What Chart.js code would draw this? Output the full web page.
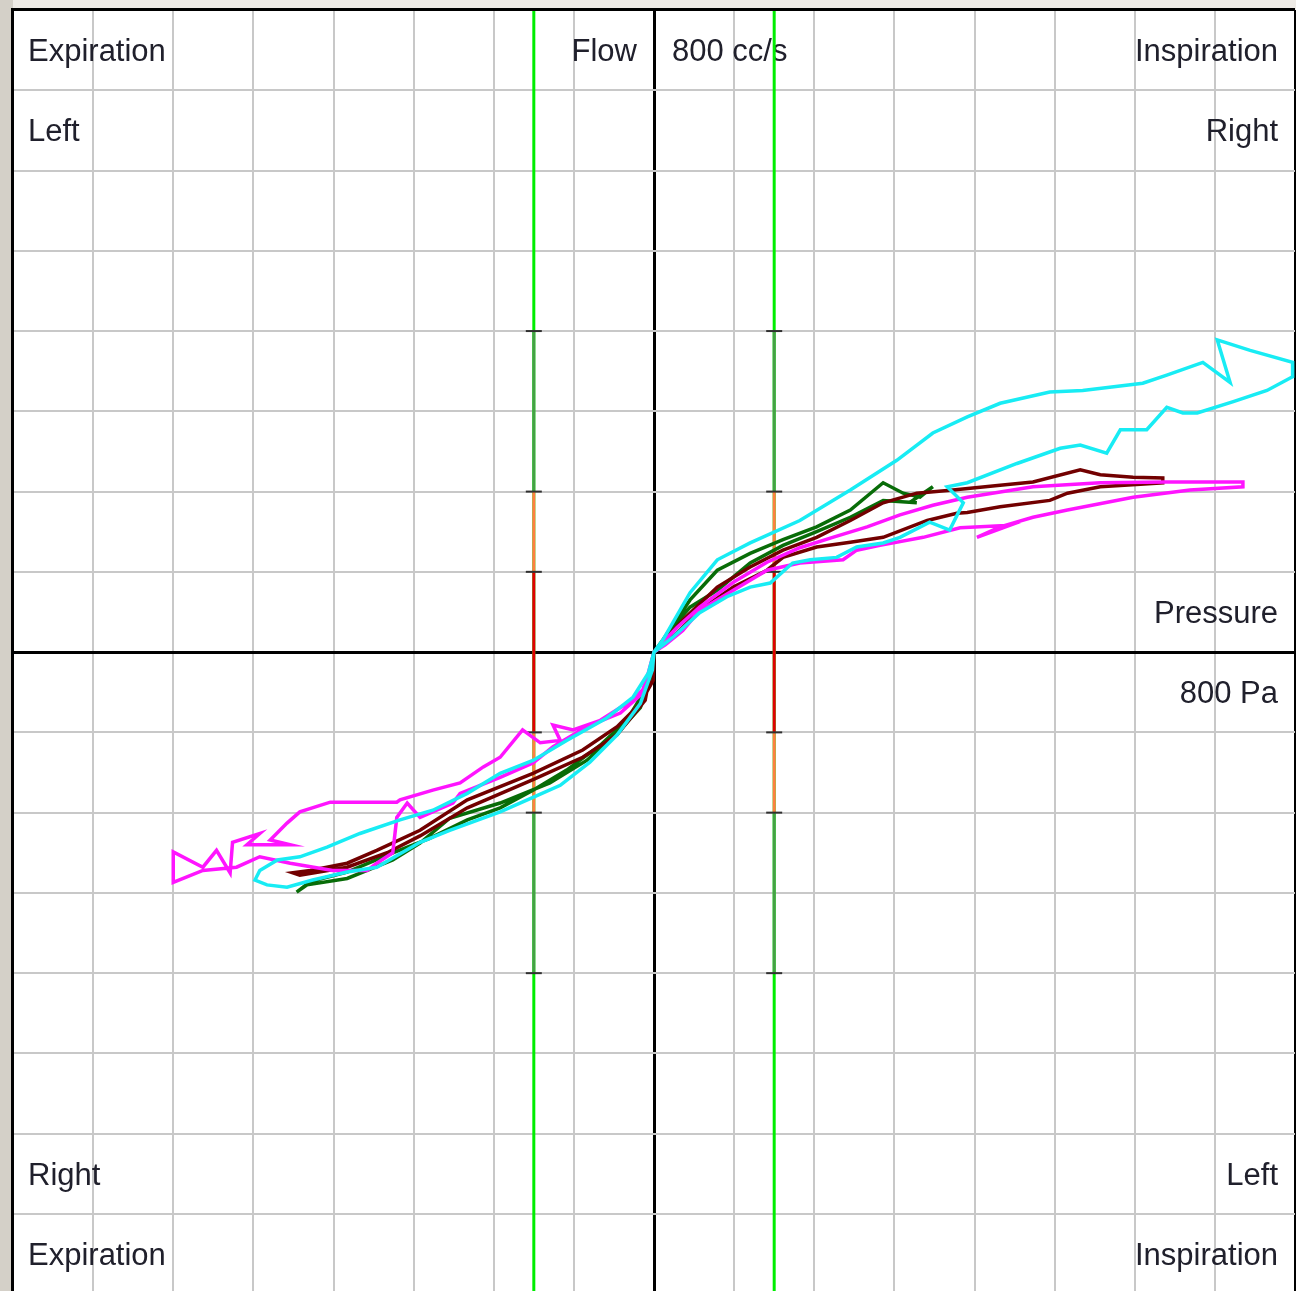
<!DOCTYPE html>
<html>
<head>
<meta charset="utf-8">
<script src="https://cdn.jsdelivr.net/npm/chart.js@4"></script>
<style>
  html, body { margin: 0; padding: 0; overflow: hidden; background: #ffffff; }
  canvas { display: block; }
</style>
</head>
<body>
<canvas id="loopChart" width="1296" height="1291"></canvas>
<script>
"use strict";

// pressure (Pa) on x, flow (cc/s) on y
const cyanPa = [0, 11, 45, 79, 120, 182, 245, 303, 348, 391, 432, 494, 535, 610, 640, 685, 719, 703, 744, 797, 797, 765, 723, 678, 660, 640, 615, 582, 565, 532, 507, 453, 391, 366, 386, 369, 344, 307, 286, 253, 228, 195, 173, 145, 120, 91, 57, 24, 0, -7, -26, -59, -109, -151, -192, -233, -276, -317, -367, -408, -442, -470, -492, -498, -483, -458, -426, -383, -346, -292, -255, -192, -151, -117, -80, -46, -17, -2, 0];
const cyanFlow = [0, 15, 74, 115, 136, 164, 202, 239, 273, 293, 310, 324, 326, 335, 345, 361, 336, 389, 376, 361, 343, 326, 312, 298, 298, 305, 277, 277, 248, 258, 254, 235, 211, 206, 186, 152, 162, 143, 136, 131, 118, 115, 111, 86, 81, 69, 49, 19, 0, -26, -56, -82, -110, -135, -151, -176, -197, -209, -226, -243, -255, -259, -272, -284, -290, -293, -284, -274, -268, -237, -222, -199, -181, -166, -137, -103, -64, -22, 0];

const magentaPa = [0, 11, 29, 57, 99, 141, 182, 223, 266, 307, 348, 391, 473, 557, 640, 735, 735, 669, 598, 516, 473, 432, 403, 444, 382, 336, 282, 253, 236, 182, 141, 99, 57, 36, 14, 0, -5, -14, -34, -67, -101, -126, -117, -142, -164, -192, -213, -242, -276, -317, -321, -404, -442, -458, -479, -454, -508, -492, -526, -529, -546, -563, -600, -600, -563, -521, -492, -454, -401, -358, -346, -326, -321, -308, -292, -251, -242, -192, -151, -126, -84, -42, -14, 0];
const magentaFlow = [0, 12, 31, 56, 87, 112, 130, 143, 156, 171, 183, 193, 206, 211, 212, 212, 206, 202, 193, 177, 168, 156, 143, 158, 155, 143, 133, 127, 115, 111, 102, 77, 52, 27, 9, 0, -20, -47, -64, -85, -97, -91, -110, -113, -97, -131, -143, -163, -172, -184, -187, -187, -199, -213, -234, -240, -240, -226, -237, -275, -247, -268, -249, -287, -272, -268, -255, -263, -272, -272, -263, -250, -206, -188, -206, -188, -176, -156, -138, -118, -93, -76, -51, 0];

const greenPa = [0, 11, 45, 79, 120, 161, 203, 245, 286, 311, 332, 348, 320, 328, 286, 245, 203, 161, 120, 79, 45, 20, 0, -2, -17, -46, -84, -130, -192, -255, -292, -326, -358, -383, -433, -446, -429, -383, -326, -280, -233, -192, -151, -109, -67, -34, -11, 0];
const greenFlow = [0, 15, 65, 102, 123, 140, 156, 177, 211, 198, 193, 206, 187, 186, 189, 168, 150, 133, 111, 77, 56, 27, 0, -26, -69, -101, -135, -163, -188, -207, -238, -259, -272, -282, -290, -299, -286, -274, -250, -232, -209, -194, -172, -147, -116, -85, -47, 0];

const redPa = [0, 36, 79, 120, 161, 203, 245, 286, 328, 373, 432, 473, 532, 557, 598, 635, 635, 557, 516, 494, 432, 391, 378, 341, 286, 245, 203, 161, 141, 99, 57, 29, 0, -1, -17, -46, -89, -151, -233, -292, -346, -383, -429, -451, -442, -383, -333, -292, -233, -151, -89, -46, -11, 0];
const redFlow = [0, 40, 81, 106, 127, 143, 164, 186, 198, 202, 208, 212, 227, 221, 218, 217, 211, 206, 198, 189, 181, 174, 173, 164, 143, 137, 131, 118, 102, 81, 52, 24, 0, -35, -64, -93, -122, -151, -184, -222, -247, -263, -272, -275, -278, -268, -250, -229, -194, -159, -131, -103, -60, 0];

// grid every 100 on both axes
const gridSteps = [-800, -700, -600, -500, -400, -300, -200, -100, 0, 100, 200, 300, 400, 500, 600, 700, 800];

// reference pressure lines and flow zones on them
const refPa = [-150, 150];
const zoneFrom = [200, 100, -100, -200, -400];
const zoneTo = [400, 200, 100, -100, -200];
const zoneColors = ["#46a046", "#ff7f40", "#e00000", "#ff7f40", "#46a046"];
const markFlow = [400, 200, 100, -100, -200, -400];

// corner texts
const textLabels = [
  { text: "Expiration", row: 800, side: "left" },
  { text: "Left", row: 700, side: "left" },
  { text: "Inspiration", row: 800, side: "right" },
  { text: "Right", row: 700, side: "right" },
  { text: "Flow", row: 800, side: "centerLeft" },
  { text: "800 cc/s", row: 800, side: "centerRight" },
  { text: "Pressure", row: 100, side: "right" },
  { text: "800 Pa", row: 0, side: "right" },
  { text: "Right", row: -600, side: "left" },
  { text: "Expiration", row: -700, side: "left" },
  { text: "Left", row: -600, side: "right" },
  { text: "Inspiration", row: -700, side: "right" },
];

function toPoints(xs, ys) {
  const pts = [];
  for (let i = 0; i < xs.length; i++) {
    pts.push({ x: xs[i], y: ys[i] });
  }
  return pts;
}

function curve(xs, ys, color, order) {
  return {
    data: toPoints(xs, ys),
    showLine: true,
    borderColor: color,
    borderWidth: 3.5,
    pointRadius: 0,
    tension: 0,
    order: order,
  };
}

const datasets = [];

datasets.push(curve(cyanPa, cyanFlow, "#18ecf4", 1));
datasets.push(curve(magentaPa, magentaFlow, "#ff14ff", 2));
datasets.push(curve(redPa, redFlow, "#720000", 3));
datasets.push(curve(greenPa, greenFlow, "#086c08", 4));

for (let p of refPa) {
  datasets.push({
    data: [{ x: p, y: -800 }, { x: p, y: 800 }],
    showLine: true,
    borderColor: "#00ee00",
    borderWidth: 3,
    pointRadius: 0,
    order: 30,
  });
  for (let i = 0; i < zoneFrom.length; i++) {
    datasets.push({
      data: [{ x: p, y: zoneFrom[i] }, { x: p, y: zoneTo[i] }],
      showLine: true,
      borderColor: zoneColors[i],
      borderWidth: 3,
      pointRadius: 0,
      order: 20,
    });
  }
  let marks = [];
  for (let f of markFlow) {
    marks.push({ x: p, y: f });
  }
  datasets.push({
    data: marks,
    showLine: false,
    pointStyle: "line",
    pointRadius: 8,
    borderColor: "#303030",
    borderWidth: 2,
    order: 10,
  });
}

function gridColor(v) {
  if (v === 0 || Math.abs(v) === 800) return "#000000";
  return "#c8c8c8";
}

function gridWidth(v) {
  if (v === 0) return 3;
  return 2;
}

function setGridTicks(scale) {
  scale.ticks = gridSteps
    .filter((v) => v >= scale.min && v <= scale.max)
    .map((v) => ({ value: v }));
}

const framePlugin = {
  id: "frame",
  beforeDraw(chart) {
    const ctx = chart.ctx;
    const area = chart.chartArea;
    ctx.save();
    ctx.fillStyle = "#eeebe6";
    ctx.fillRect(0, 0, chart.width, chart.height);
    ctx.fillStyle = "#d4d0c8";
    ctx.fillRect(0, 0, area.left, chart.height);
    ctx.fillStyle = "#ffffff";
    ctx.fillRect(area.left, area.top, area.right - area.left, area.bottom - area.top);
    ctx.restore();
  },
  beforeDatasetsDraw(chart) {
    const ctx = chart.ctx;
    const xs = chart.scales.x;
    const ys = chart.scales.y;
    const cx = xs.getPixelForValue(0);
    ctx.save();
    ctx.font = "31px 'Liberation Sans', Arial, sans-serif";
    ctx.fillStyle = "#20202c";
    ctx.textBaseline = "alphabetic";
    for (let lab of textLabels) {
      const y = ys.getPixelForValue(lab.row) + 51;
      if (lab.side === "left") {
        ctx.textAlign = "left";
        ctx.fillText(lab.text, xs.left + 15, y);
      } else if (lab.side === "right") {
        ctx.textAlign = "right";
        ctx.fillText(lab.text, xs.right - 17, y);
      } else if (lab.side === "centerLeft") {
        ctx.textAlign = "right";
        ctx.fillText(lab.text, cx - 17, y);
      } else {
        ctx.textAlign = "left";
        ctx.fillText(lab.text, cx + 18, y);
      }
    }
    ctx.restore();
  },
  afterDraw(chart) {
    const ctx = chart.ctx;
    const area = chart.chartArea;
    ctx.save();
    ctx.strokeStyle = "#000000";
    ctx.lineWidth = 3;
    ctx.beginPath();
    ctx.moveTo(area.left - 0.5, chart.height);
    ctx.lineTo(area.left - 0.5, area.top - 0.5);
    ctx.lineTo(area.right, area.top - 0.5);
    ctx.stroke();
    ctx.restore();
  },
};

new Chart(document.getElementById("loopChart"), {
  type: "scatter",
  data: { datasets: datasets },
  plugins: [framePlugin],
  options: {
    responsive: false,
    animation: false,
    layout: { autoPadding: false, padding: { left: 13, top: 10, right: 1, bottom: 0 } },
    plugins: {
      legend: { display: false },
      tooltip: { enabled: false },
    },
    scales: {
      x: {
        type: "linear",
        min: -800,
        max: 800,
        border: { display: false },
        ticks: { display: false },
        afterBuildTicks: setGridTicks,
        grid: {
          drawTicks: false,
          color: (c) => gridColor(c.tick.value),
          lineWidth: (c) => gridWidth(c.tick.value),
        },
      },
      y: {
        type: "linear",
        min: -796,
        max: 800,
        border: { display: false },
        ticks: { display: false },
        afterBuildTicks: setGridTicks,
        grid: {
          drawTicks: false,
          color: (c) => gridColor(c.tick.value),
          lineWidth: (c) => gridWidth(c.tick.value),
        },
      },
    },
  },
});
</script>
</body>
</html>
